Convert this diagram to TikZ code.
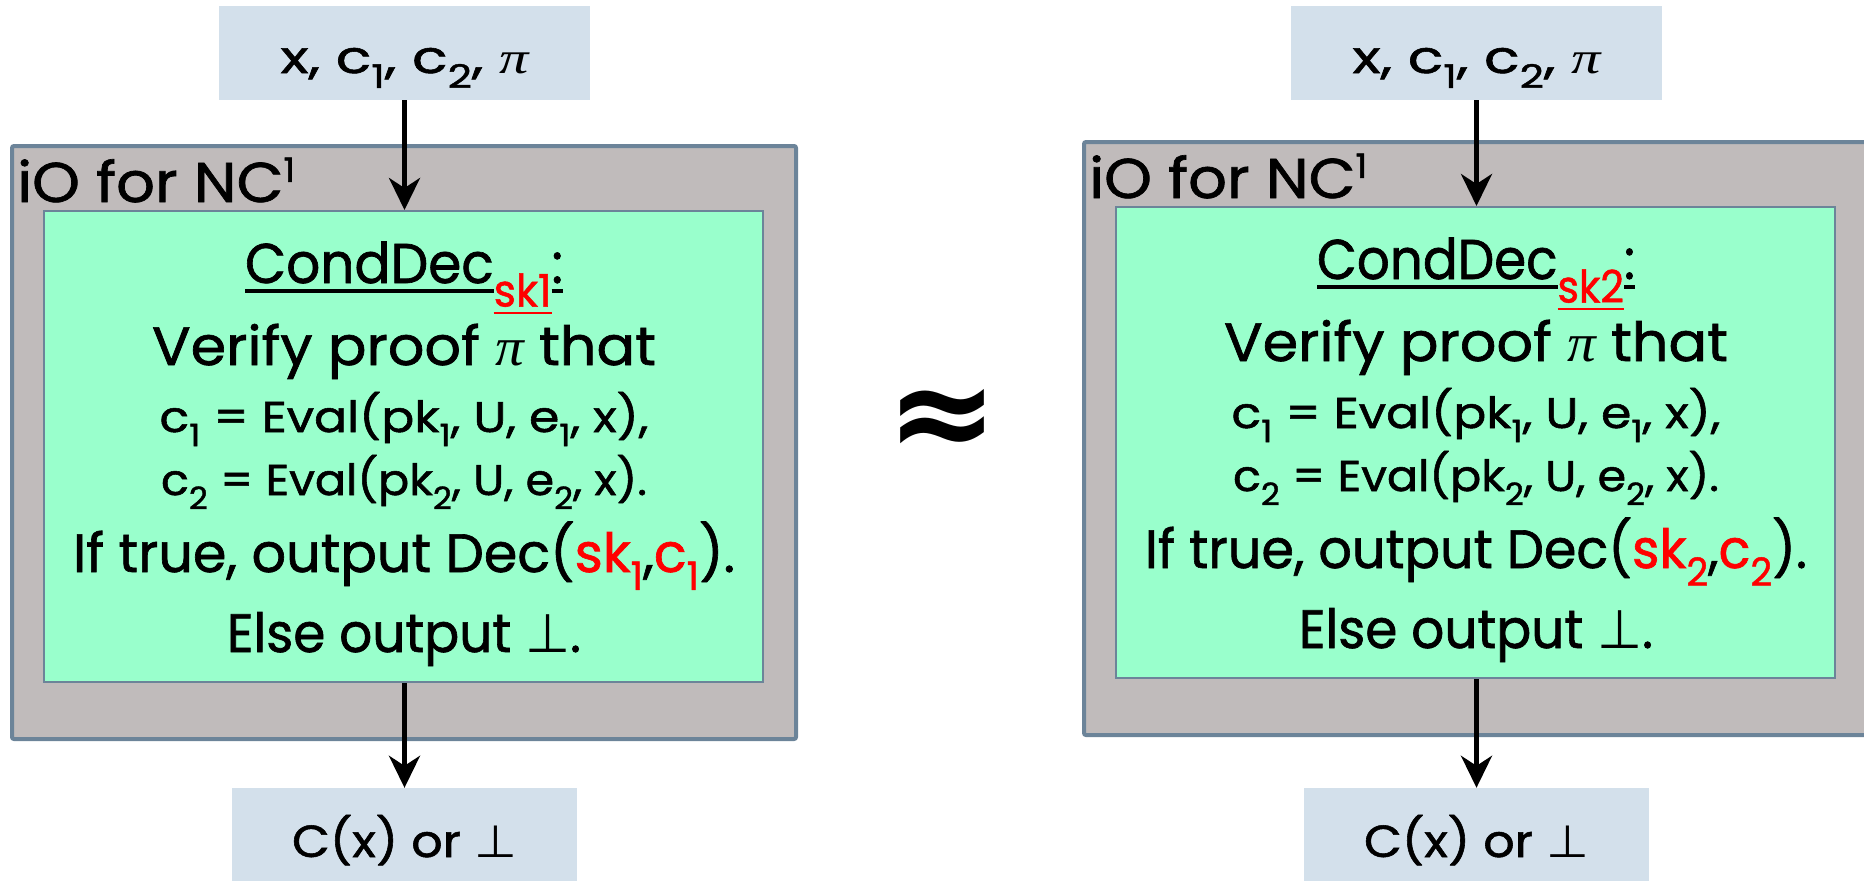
\documentclass[tikz,border=0pt]{standalone}
\usepackage{fontspec}
\setmainfont{Poppins}[FakeBold=1.2]
\newfontfamily\symfont{DejaVu Sans}
\newfontfamily\greekfont{Liberation Serif}
\usetikzlibrary{arrows.meta}

\definecolor{frameblue}{HTML}{6C8499}
\definecolor{iogray}{HTML}{C0BBBB}
\definecolor{mint}{HTML}{99FFCC}
\definecolor{paleblue}{HTML}{D3E0EB}

% font size in pt
\newcommand\fs[1]{\fontsize{#1}{#1}\selectfont}
% lowered / raised small indices
\newcommand\dn[1]{\raisebox{-0.33em}{\scalebox{0.72}{#1}}}
\newcommand\up[1]{\raisebox{0.36em}{\scalebox{0.6}{#1}}}
% pi and bottom symbols
\newcommand\mypi{{\greekfont\itshape π}}
\newcommand\bottom{{\symfont ⊥}}
% underline drawn with a rule in the current colour
\newsavebox\ubox
\newcommand\uline[1]{\sbox\ubox{#1}\rlap{\rule[-0.17em]{\wd\ubox}{0.055em}}\usebox\ubox}
% set a line condensed to a given width (in pt)
\newsavebox\fitbox
\newcommand\fitw[2]{\sbox\fitbox{#2}\pgfmathsetmacro\fitsx{#1/\the\wd\fitbox}\scalebox{\fitsx}[1]{\usebox\fitbox}}

\tikzset{
  iobox/.style={draw=frameblue, line width=4pt, fill=iogray, rounded corners=2pt,
    minimum width=784pt, minimum height=593pt, inner sep=0pt},
  condbox/.style={draw=frameblue, line width=2pt, fill=mint,
    minimum width=719pt, minimum height=471pt, inner sep=0pt},
  valbox/.style={fill=paleblue, inner sep=0pt},
  txt/.style={anchor=base, inner sep=0pt},
  flow/.style={line width=4.5pt, -{Stealth[length=32pt,width=31pt,inset=10pt]}},
}

\begin{document}
\begin{tikzpicture}[x=1pt, y=-1pt]
\useasboundingbox (0,0) rectangle (1864,881);

\foreach \s/\dx/\dy/\k in {a/0/0/1, b/1072/-4/2}{
  % input and output values
  \node[valbox, minimum width=371pt, text height=67pt, text depth=27pt, font=\fs{45}]
    (in\s) at (404.5+\dx,53) {\fitw{248}{x, c\dn{1}, c\dn{2}, \mypi}};
  \node[valbox, minimum width=345pt, text height=69pt, text depth=33pt, font=\fs{45}]
    (out\s) at (404.5+\dx,839) {\fitw{225}{C(x) or \bottom}};
  % obfuscated circuit
  \node[iobox] (io\s) at (404+\dx,442.5+\dy) {};
  \node[txt, anchor=base west, font=\fs{56}] (lbl\s) at (17+\dx,202+\dy)
    {\fitw{278}{iO for NC\up{1}}};
  \node[condbox] (cd\s) at (403.5+\dx,446.5+\dy) {};
  % program text
  \node[txt, font=\fs{56}] (t1\s) at (404+\dx,283+\dy)
    {\fitw{318}{\uline{CondDec}\raisebox{-0.42em}{\color{red}\scalebox{0.8}{\uline{sk\k}}}\uline{:}}};
  \node[txt, font=\fs{54}] (t2\s) at (404+\dx,365+\dy) {\fitw{504}{Verify proof \mypi{} that}};
  \node[txt, font=\fs{43}] (t3\s) at (404+\dx,432+\dy)
    {\fitw{489}{c\dn{1} = Eval(pk\dn{1}, U, e\dn{1}, x),}};
  \node[txt, font=\fs{43}] (t4\s) at (404+\dx,495+\dy)
    {\fitw{486}{c\dn{2} = Eval(pk\dn{2}, U, e\dn{2}, x).}};
  \node[txt, font=\fs{54}] (t5\s) at (404+\dx,572+\dy)
    {\fitw{662}{If true, output Dec({\color{red}sk\dn{\k}},{\color{red}c\dn{\k}}).}};
  \node[txt, font=\fs{54}] (t6\s) at (404+\dx,652+\dy) {\fitw{354}{Else output \bottom.}};
  % data flow
  \draw[flow] (in\s.south) -- (in\s.south |- cd\s.north);
  \draw[flow] (out\s.north |- cd\s.south) -- (out\s.north);
}

\node[inner sep=0pt, font=\symfont\bfseries\fs{100}] (apx) at (942,423.5)
  {\resizebox{112pt}{!}{≈}};
\end{tikzpicture}
\end{document}
